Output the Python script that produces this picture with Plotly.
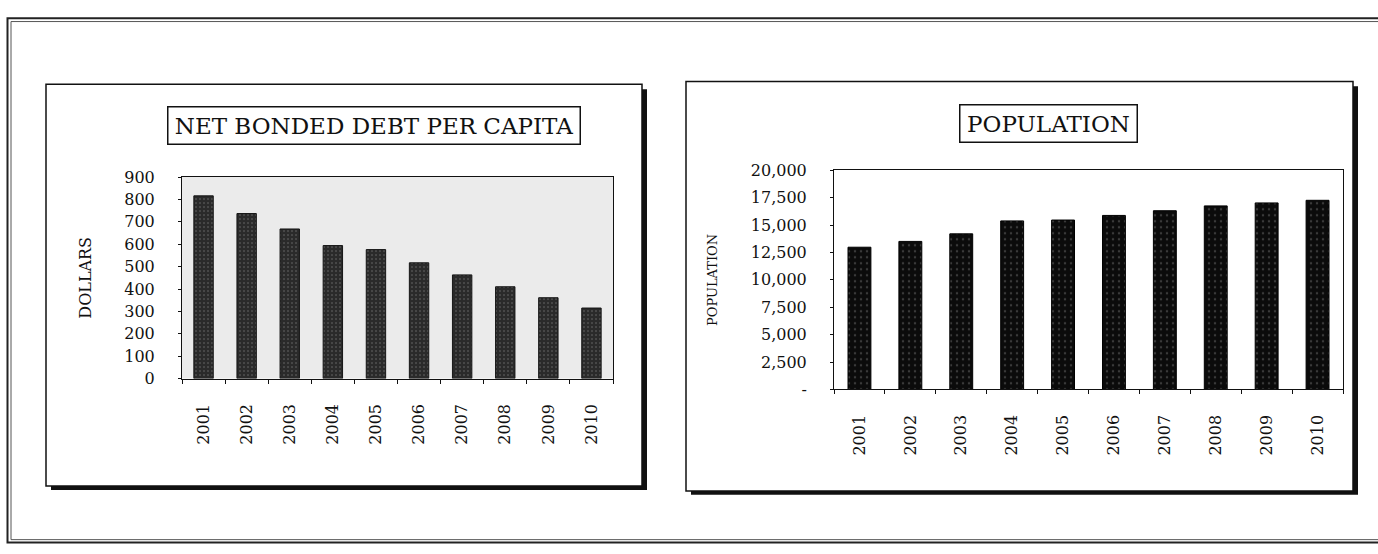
import plotly.graph_objects as go
from plotly.subplots import make_subplots

# Fiscal years shown on both charts
years = ["2001", "2002", "2003", "2004", "2005", "2006", "2007", "2008", "2009", "2010"]

# Net bonded debt per capita, in dollars
debt_per_capita = [816, 737, 668, 594, 576, 517, 463, 410, 361, 315]

# Resident population
population = [12980, 13510, 14200, 15380, 15460, 15880, 16310, 16750, 17020, 17260]

# Axis ticks
debt_ticks = [0, 100, 200, 300, 400, 500, 600, 700, 800, 900]
pop_ticks = [0, 2500, 5000, 7500, 10000, 12500, 15000, 17500, 20000]
pop_tick_text = ["-", "2,500", "5,000", "7,500", "10,000", "12,500", "15,000", "17,500", "20,000"]

W, H = 1378, 554
FONT = "DejaVu Serif"


def px(x):
    return x / W


def py(y):
    return 1 - y / H


fig = make_subplots(rows=1, cols=2)

fig.add_trace(
    go.Bar(
        x=years, y=debt_per_capita,
        marker=dict(
            color="#2a2a2a",
            line=dict(color="#151515", width=1),
            pattern=dict(shape=".", fgcolor="#777777", size=4, solidity=0.2),
        ),
        showlegend=False,
    ),
    row=1, col=1,
)

fig.add_trace(
    go.Bar(
        x=years, y=population,
        marker=dict(
            color="#0b0b0b",
            line=dict(color="#000000", width=1),
            pattern=dict(shape=".", fgcolor="#6a6a6a", size=6, solidity=0.12),
        ),
        showlegend=False,
    ),
    row=1, col=2,
)

tick_font = dict(family=FONT, size=16, color="#111111")
axis_common = dict(
    showline=True, linecolor="#111111", linewidth=1, mirror=True,
    showgrid=False, zeroline=False, tickfont=tick_font,
)

fig.update_xaxes(
    **axis_common,
    type="category", tickangle=-90, ticks="outside", ticklen=4,
    tickcolor="#111111", tickson="boundaries", ticklabelstandoff=18,
)

fig.update_xaxes(domain=[px(182), px(613)], row=1, col=1)
fig.update_xaxes(domain=[px(834), px(1343)], row=1, col=2)

fig.update_yaxes(
    **axis_common,
    ticks="outside", ticklen=3, tickcolor="#111111",
    ticklabelstandoff=20,
)
fig.update_yaxes(
    domain=[py(382.7), py(174)], range=[0, 900], tickvals=debt_ticks,
    title=dict(text="DOLLARS", font=dict(family=FONT, size=16, color="#111111"), standoff=28),
    row=1, col=1,
)
fig.update_yaxes(
    domain=[py(394), py(167)], range=[0, 20000], tickvals=pop_ticks, ticktext=pop_tick_text,
    title=dict(text="POPULATION", font=dict(family=FONT, size=13, color="#111111"), standoff=30),
    row=1, col=2,
)

shapes = []

# Page border (double rule)
shapes.append(dict(type="rect", xref="paper", yref="paper", layer="below",
                   x0=px(7.5), y0=py(552.5), x1=px(1400), y1=py(9.5),
                   line=dict(color="#222222", width=2)))
shapes.append(dict(type="rect", xref="paper", yref="paper", layer="below",
                   x0=px(11), y0=py(549.5), x1=px(1396), y1=py(13),
                   line=dict(color="#555555", width=1)))

# Chart frames with drop shadows
frames = [(46, 78, 642, 494), (686, 75, 1353, 499)]
for x0, y0, x1, y1 in frames:
    shapes.append(dict(type="rect", xref="paper", yref="paper", layer="below",
                       x0=px(x0 + 5), y0=py(y1 + 4), x1=px(x1 + 5), y1=py(y0 + 5),
                       fillcolor="#111111", line=dict(width=0)))
    shapes.append(dict(type="rect", xref="paper", yref="paper", layer="below",
                       x0=px(x0), y0=py(y1), x1=px(x1), y1=py(y0),
                       fillcolor="#ffffff", line=dict(color="#111111", width=1.5)))

# Stippled grey plot area of the debt chart
shapes.append(dict(type="rect", xref="x domain", yref="y domain", layer="below",
                   x0=0, y0=0, x1=1, y1=1,
                   fillcolor="#ebebeb", line=dict(width=0)))

title_font = dict(family=FONT, size=23, color="#111111")
annotations = [
    dict(text="NET BONDED DEBT PER CAPITA", x=px(373.5), y=py(120.5),
         xref="paper", yref="paper", showarrow=False, font=title_font,
         bgcolor="#ffffff", bordercolor="#111111", borderwidth=1.5, borderpad=3,
         width=405, height=30, xanchor="center", yanchor="middle"),
    dict(text="POPULATION", x=px(1048), y=py(118.5),
         xref="paper", yref="paper", showarrow=False, font=title_font,
         bgcolor="#ffffff", bordercolor="#111111", borderwidth=1.5, borderpad=3,
         width=170, height=30, xanchor="center", yanchor="middle"),
]

fig.update_layout(
    width=W, height=H,
    margin=dict(l=0, r=0, t=0, b=0),
    paper_bgcolor="#ffffff",
    plot_bgcolor="rgba(0,0,0,0)",
    bargap=0.55,
    shapes=shapes,
    annotations=annotations,
    font=dict(family=FONT, color="#111111"),
)

fig.write_html("out.html")
